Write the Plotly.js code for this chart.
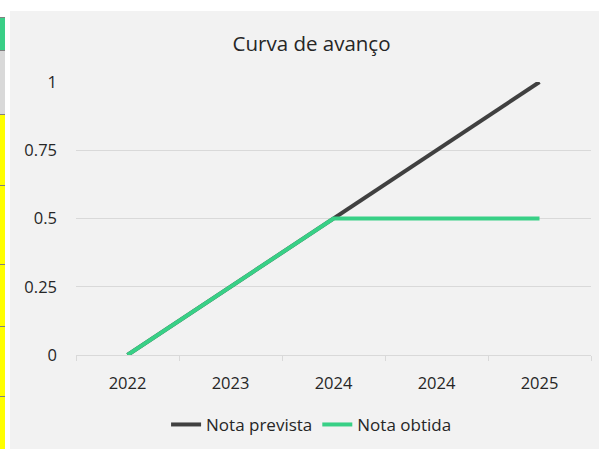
<!DOCTYPE html>
<html><head><meta charset="utf-8">
<script src="https://cdn.plot.ly/plotly-3.0.1.min.js"></script>
<style>
html,body{margin:0;padding:0;background:#fff;width:599px;height:449px;overflow:hidden;position:relative;}
#chart{position:absolute;left:10px;top:11px;width:589px;height:438px;}
.cell{position:absolute;left:0;width:5px;}
</style></head><body>
<div class="cell" style="top:17px;height:1px;background:#808080"></div>
<div class="cell" style="top:18px;height:32px;background:#3acf87"></div>
<div class="cell" style="top:50px;height:1px;background:#808080"></div>
<div class="cell" style="top:51px;height:64px;background:#d9d9d9"></div>
<div class="cell" style="top:114px;height:1px;background:#808080"></div>
<div class="cell" style="top:115px;height:334px;background:#ffff00"></div>
<div class="cell" style="top:185px;height:1px;background:#808080"></div>
<div class="cell" style="top:264px;height:1px;background:#808080"></div>
<div class="cell" style="top:326px;height:1px;background:#808080"></div>
<div class="cell" style="top:396px;height:1px;background:#808080"></div>
<div id="chart"></div>
<script>
const categories = ["2022", "2023", "2024", "2024", "2025"];
const notaPrevista = [0, 0.25, 0.5, 0.75, 1];
const notaObtida = [0, 0.25, 0.5, 0.5, 0.5];
const yTicks = [0, 0.25, 0.5, 0.75, 1];

const idx = categories.map((_, i) => i);
const bounds = [];
for (let i = 0; i <= categories.length; i++) bounds.push(i - 0.5);

const font = "Open Sans, Noto Sans, sans-serif";
const data = [
  {x: idx, y: notaPrevista, name: "Nota prevista", type: "scatter", mode: "lines",
   line: {color: "#404040", width: 4}},
  {x: idx, y: notaObtida, name: "Nota obtida", type: "scatter", mode: "lines",
   line: {color: "#38d086", width: 4}},
  {x: idx, y: notaObtida.map(() => null), xaxis: "x2", showlegend: false, hoverinfo: "skip", type: "scatter"}
];
const layout = {
  width: 589, height: 438,
  paper_bgcolor: "#f2f2f2", plot_bgcolor: "#f2f2f2",
  margin: {l: 66, r: 8, t: 71, b: 94},
  font: {family: font, color: "#262626", size: 16},
  title: {text: "Curva de avanço", font: {size: 20.5, color: "#262626", family: font},
          xref: "container", yref: "container", x: 0.512, xanchor: "center", y: 0.925, yanchor: "middle"},
  xaxis: {range: [-0.5, categories.length - 0.5], tickmode: "array", tickvals: bounds,
          ticktext: bounds.map(() => ""), ticks: "outside", ticklen: 5, tickcolor: "#d9d9d9",
          showgrid: false, zeroline: false, showline: true, linecolor: "#d9d9d9", linewidth: 1, fixedrange: true},
  xaxis2: {overlaying: "x", range: [-0.5, categories.length - 0.5], tickmode: "array", tickvals: idx,
           ticktext: categories, ticks: "", showgrid: false, zeroline: false, showline: false,
           side: "bottom", ticklabelstandoff: 16, tickfont: {size: 16.5, color: "#262626"}},
  yaxis: {range: [0, 1], tickmode: "array", tickvals: yTicks, ticktext: yTicks.map(String),
          showgrid: true, gridcolor: "#d9d9d9", gridwidth: 1, zeroline: false, showline: false,
          ticks: "", ticklabelstandoff: 18, tickfont: {size: 16.5, color: "#262626"}},
  showlegend: true,
  legend: {orientation: "h", x: 0.512, xref: "container", xanchor: "center", y: 0.055, yref: "container", yanchor: "middle",
           font: {size: 17, color: "#262626"}, bgcolor: "rgba(0,0,0,0)", itemwidth: 30, tracegroupgap: 0}
};
Plotly.newPlot("chart", data, layout, {displayModeBar: false, staticPlot: true});
</script>
</body></html>
